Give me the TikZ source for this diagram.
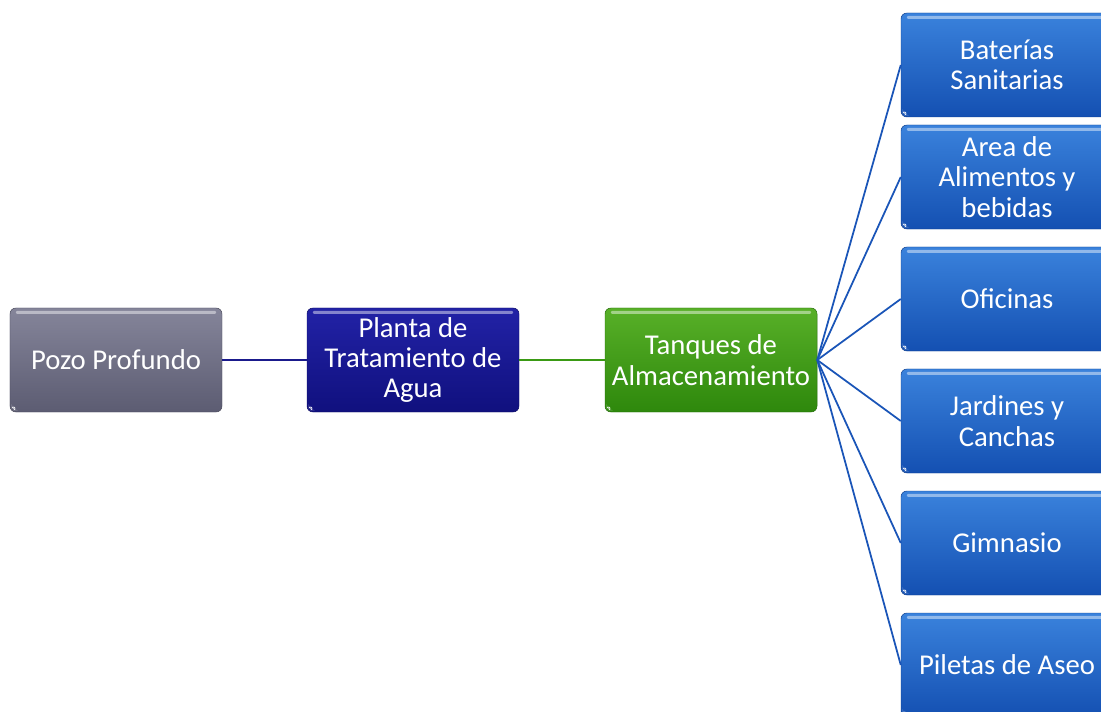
\documentclass[tikz,border=0pt]{standalone}
\usepackage{fontspec}
\setmainfont{Carlito}
\definecolor{pozoA}{HTML}{85859A}
\definecolor{pozoB}{HTML}{5C5C72}
\definecolor{plantaA}{HTML}{2222A6}
\definecolor{plantaB}{HTML}{10107E}
\definecolor{tanqA}{HTML}{58B028}
\definecolor{tanqB}{HTML}{2E880C}
\definecolor{usoA}{HTML}{3A82DC}
\definecolor{usoB}{HTML}{1450B2}
\definecolor{lnBlue}{HTML}{1A55B8}
\definecolor{lnNavy}{HTML}{1A1A8C}
\definecolor{lnGreen}{HTML}{3A9A14}
\tikzset{
  box/.style={rounded corners=5pt, minimum width=6.36cm, minimum height=3.12cm,
    inner sep=2pt, align=center, text=white,
    font=\fontsize{24.5}{26}\selectfont,
    path picture={
      \fill[white,opacity=0.45,rounded corners=1pt] ([xshift=5pt,yshift=-2.5pt]path picture bounding box.north west) rectangle ([xshift=-5pt,yshift=-5pt]path picture bounding box.north east);
      \fill[white] ([xshift=1.5pt,yshift=1.5pt]path picture bounding box.south west) -- ++(5pt,0) -- ++(-5pt,5pt) -- cycle;
    }},
  pozo/.style={box, top color=pozoA, bottom color=pozoB, draw=pozoB!80!black},
  planta/.style={box, top color=plantaA, bottom color=plantaB, draw=plantaB!80!black},
  tanq/.style={box, top color=tanqA, bottom color=tanqB, draw=tanqB!80!black},
  uso/.style={box, top color=usoA, bottom color=usoB, draw=usoB!80!black},
  conn/.style={line width=1.5pt}
}
\begin{document}
\begin{tikzpicture}[x=0.03cm,y=-0.03cm]
\useasboundingbox (0,0) rectangle (1101,712);
\clip (0,0) rectangle (1101,712);
\fill[white] (0,0) rectangle (1101,712);
\node[pozo] (pozo) at (116,360) {Pozo Profundo};
\node[planta] (planta) at (413,360) {Planta de\\Tratamiento de\\Agua};
\node[tanq] (tanq) at (711,360) {Tanques de\\Almacenamiento};
\node[uso] (bat) at (1007,65) {Baterías\\Sanitarias};
\node[uso] (ali) at (1007,177) {Area de\\Alimentos y\\bebidas};
\node[uso] (ofi) at (1007,299) {Oficinas};
\node[uso] (jar) at (1007,421) {Jardines y\\Canchas};
\node[uso] (gim) at (1007,543) {Gimnasio};
\node[uso] (pil) at (1007,665) {Piletas de Aseo};
\draw[conn, lnNavy] (pozo) -- (planta);
\draw[conn, lnGreen] (planta) -- (tanq);
\foreach \t in {bat,ali,ofi,jar,gim,pil}
  \draw[conn, lnBlue] (tanq.east) -- (\t.west);
\end{tikzpicture}
\end{document}
